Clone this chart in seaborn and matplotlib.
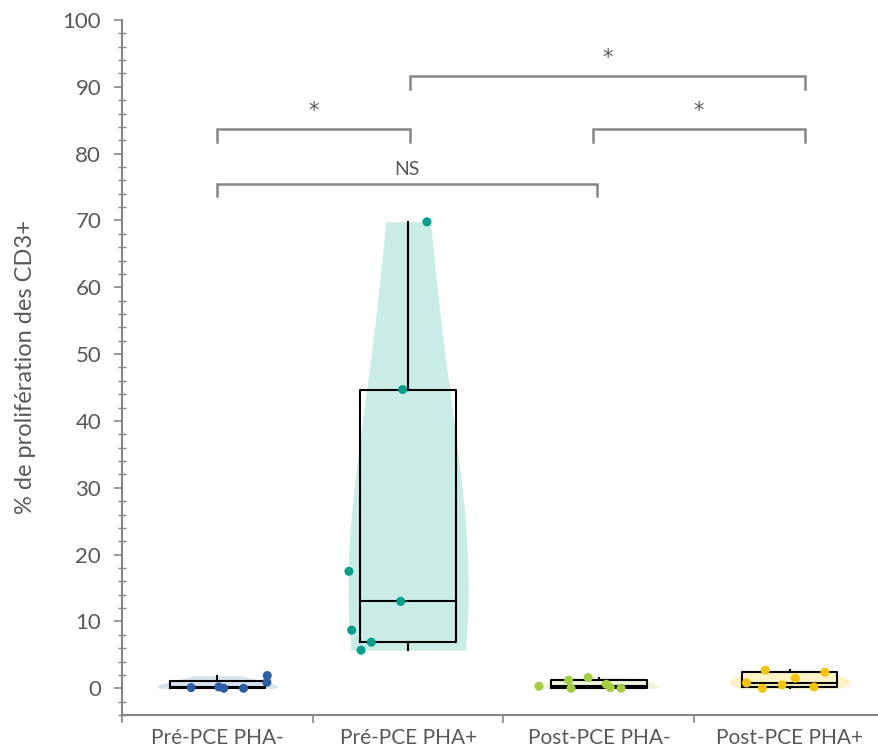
import numpy as np
import pandas as pd
import matplotlib
matplotlib.use("Agg")
import matplotlib.pyplot as plt
from matplotlib.ticker import MultipleLocator, FixedLocator
import seaborn as sns

# Data
groups = ["Pré-PCE PHA-", "Pré-PCE PHA+", "Post-PCE PHA-", "Post-PCE PHA+"]
pre_pha_neg = [0.0, 0.0, 0.1, 0.2, 0.9, 1.9]
pre_pha_pos = [5.7, 6.9, 8.7, 13.0, 17.5, 44.7, 69.8]
post_pha_neg = [0.0, 0.0, 0.1, 0.3, 0.6, 1.2, 1.6]
post_pha_pos = [0.0, 0.2, 0.5, 0.8, 1.5, 2.4, 2.7]

point_colors = ["#2b5ea6", "#00a08a", "#a3cf3e", "#f5c400"]
violin_colors = ["#d9e2ee", "#c9ece6", "#eef4da", "#fcf2c6"]

# comparisons: (left, right, height, label)
brackets = [
    (0, 1.01, 83.7, "*"),
    (0, 1.99, 75.5, "NS"),
    (1.01, 3.08, 91.6, "*"),
    (1.97, 3.08, 83.7, "*"),
]

values = [pre_pha_neg, pre_pha_pos, post_pha_neg, post_pha_pos]
df = pd.DataFrame({
    "groupe": np.repeat(groups, [len(v) for v in values]),
    "prolif": np.concatenate(values),
})

grey = "#595959"
line_grey = "#868686"
plt.rcParams["font.family"] = ["Lato", "DejaVu Sans"]

fig = plt.figure(figsize=(8.79, 7.55), dpi=100)
ax = fig.add_axes([122 / 879, 40 / 755, 763 / 879, 695 / 755])

sns.violinplot(data=df, x="groupe", y="prolif", hue="groupe", order=groups,
               palette=violin_colors, inner=None, cut=0, linewidth=0,
               density_norm="width", width=0.63, saturation=1, bw_adjust=1.6,
               legend=False, ax=ax)

# box using exclusive quartiles (Excel style)
stats = []
for v in values:
    q1, med, q3 = np.percentile(v, [25, 50, 75], method="weibull")
    stats.append({"med": med, "q1": q1, "q3": q3,
                  "whislo": min(v), "whishi": max(v), "fliers": []})
ax.bxp(stats, positions=range(4), widths=0.5, showcaps=False, patch_artist=False,
       boxprops=dict(color="black", linewidth=1.5),
       whiskerprops=dict(color="black", linewidth=1.5),
       medianprops=dict(color="black", linewidth=1.5),
       manage_ticks=False)

np.random.seed(3)
sns.stripplot(data=df, x="groupe", y="prolif", hue="groupe", order=groups,
              palette=point_colors, jitter=0.33, size=6.5, linewidth=0,
              legend=False, zorder=5, ax=ax)

for x1, x2, y, lab in brackets:
    ax.plot([x1, x1, x2, x2], [y - 1.9, y, y, y - 1.9], color=line_grey, lw=1.8,
            solid_joinstyle="miter", clip_on=False)
    if lab == "*":
        ax.text((x1 + x2) / 2, y + 1.2, lab, ha="center", va="bottom",
                fontsize=15, color=grey, family="DejaVu Sans")
    else:
        ax.text((x1 + x2) / 2, y + 0.9, lab, ha="center", va="bottom",
                fontsize=14, color=grey)

ax.set_xlim(-0.5, 3.5)
ax.set_ylim(-4, 100)
ax.yaxis.set_major_locator(MultipleLocator(10))
ax.yaxis.set_minor_locator(MultipleLocator(2))
ax.set_yticks(range(0, 101, 10))
ax.xaxis.set_minor_locator(FixedLocator([-0.5, 0.5, 1.5, 2.5, 3.5]))
ax.tick_params(axis="y", which="major", direction="out", length=6, width=1.2,
               color=line_grey, labelcolor=grey, labelsize=16, pad=9)
ax.tick_params(axis="y", which="minor", direction="inout", length=6, width=1.0,
               color=line_grey)
ax.tick_params(axis="x", which="major", length=0, labelcolor=grey, labelsize=15, pad=9)
ax.tick_params(axis="x", which="minor", direction="out", length=6, width=1.2,
               color=line_grey)
ax.set_xlabel("")
ax.set_ylabel("% de prolifération des CD3+", fontsize=17, color=grey, labelpad=19)

for s in ["top", "right"]:
    ax.spines[s].set_visible(False)
for s in ["left", "bottom"]:
    ax.spines[s].set_color(line_grey)
    ax.spines[s].set_linewidth(1.5)

fig.savefig("out.png", dpi=100)
